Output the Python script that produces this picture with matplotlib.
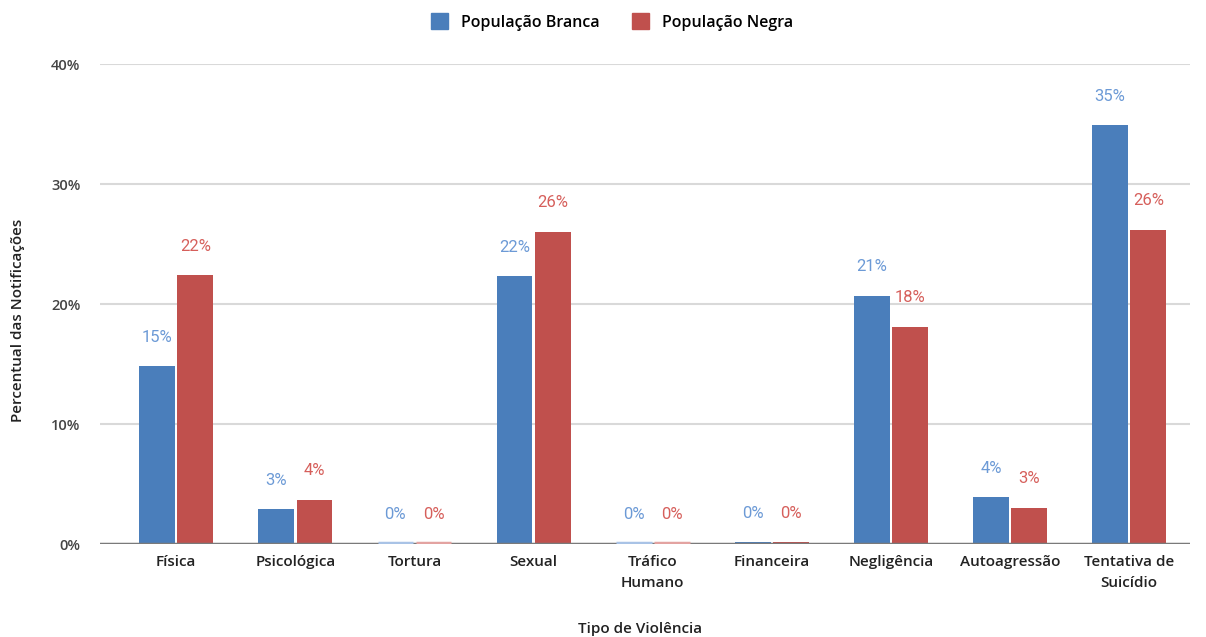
import matplotlib
matplotlib.use("Agg")
import matplotlib.pyplot as plt
from matplotlib.ticker import FuncFormatter

categories = ["Física", "Psicológica", "Tortura", "Sexual", "Tráfico\nHumano",
              "Financeira", "Negligência", "Autoagressão", "Tentativa de\nSuicídio"]
branca = [14.8, 2.9, 0.0, 22.3, 0.0, 0.15, 20.7, 3.9, 34.9]
negra = [22.4, 3.7, 0.0, 26.0, 0.0, 0.15, 18.1, 3.0, 26.2]
series_names = ["População Branca", "População Negra"]

BLUE = "#4a7ebb"
RED = "#c0504d"
BLUE_TXT = "#6c9ad6"
RED_TXT = "#d65f5b"
BLUE_ZERO = "#a9c3e6"
RED_ZERO = "#e3a3a1"
UI_FONT = "Open Sans"

fig = plt.figure(figsize=(12.06, 6.37), dpi=100)
ax = fig.add_axes([100 / 1206, 1 - 544 / 637, 1090 / 1206, 480 / 637])

x = list(range(len(categories)))
w = 0.30
off = 0.16

def draw(vals, dx, color, txtcolor, zerocolor):
    for xi, v in zip(x, vals):
        if v == 0:
            ax.plot([xi + dx - w / 2, xi + dx + w / 2], [0.08, 0.08], color=zerocolor,
                    lw=2.5, solid_capstyle="butt", zorder=6)
        else:
            ax.bar(xi + dx, v, width=w, color=color, zorder=3)
        ax.annotate(f"{v:.0f}%", (xi + dx, v), xytext=(0, 21), textcoords="offset points",
                    ha="center", va="center", color=txtcolor, fontsize=12,
                    family="Roboto")

draw(branca, -off, BLUE, BLUE_TXT, BLUE_ZERO)
draw(negra, off, RED, RED_TXT, RED_ZERO)

ax.set_xlim(-0.64, 8.51)
ax.set_ylim(0, 40)
ax.set_yticks([0, 10, 20, 30, 40])
ax.yaxis.set_major_formatter(FuncFormatter(lambda v, p: f"{v:.0f}%"))
ax.grid(axis="y", color="#d9d9d9", lw=1.5, zorder=0)
ax.axhline(0, color="#7a7a7a", lw=2.5, zorder=5)
for s in ax.spines.values():
    s.set_visible(False)
ax.tick_params(axis="both", length=0)
ax.tick_params(axis="y", pad=14)
for t in ax.get_yticklabels():
    t.set_fontsize(10.5)
    t.set_color("#444444")
    t.set_family(UI_FONT)
    t.set_fontweight("semibold")
ax.set_xticks(x)
ax.set_xticklabels(categories, fontsize=11, color="#222222", family=UI_FONT,
                   fontweight="semibold", linespacing=1.6)
ax.tick_params(axis="x", pad=8)

fig.text(18 / 1206, 1 - 320 / 637, "Percentual das Notificações", rotation=90,
         ha="center", va="center", fontsize=11, color="#222222", family=UI_FONT,
         fontweight="semibold")
fig.text(640 / 1206, 1 - 629 / 637, "Tipo de Violência", ha="center", va="center",
         fontsize=11, color="#222222", family=UI_FONT, fontweight="semibold")

handles = [plt.Rectangle((0, 0), 1, 1, color=BLUE), plt.Rectangle((0, 0), 1, 1, color=RED)]
fig.legend(handles, series_names, loc="center", bbox_to_anchor=(612 / 1206, 1 - 22 / 637),
           ncol=2, frameon=False, handlelength=1.1, handleheight=1.1,
           columnspacing=2.0, handletextpad=0.8,
           prop={"family": UI_FONT, "weight": "semibold", "size": 11.5})

fig.savefig("out.png", dpi=100, facecolor="white")
